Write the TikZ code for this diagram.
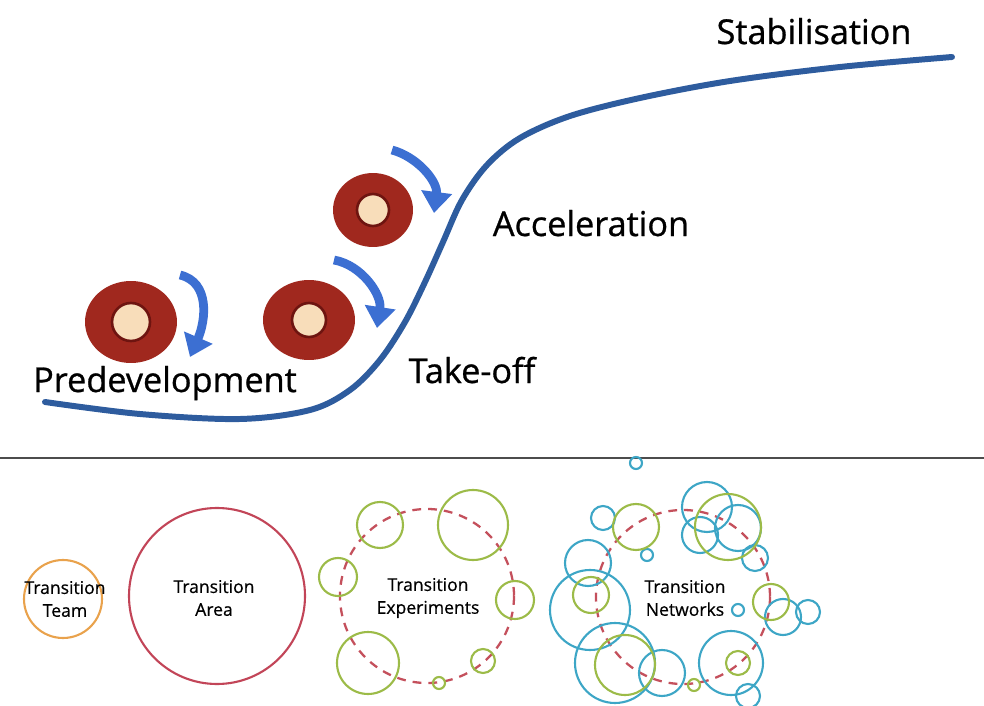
\documentclass[tikz,border=0pt]{standalone}
\usepackage{fontspec}
\setmainfont{Open Sans}
\usetikzlibrary{arrows.meta,shapes.geometric}

\definecolor{curveblue}{HTML}{2E5C9E}
\definecolor{arrowblue}{HTML}{3C6FD2}
\definecolor{discred}{HTML}{A0281E}
\definecolor{ringred}{HTML}{6E1410}
\definecolor{corebeige}{HTML}{F8DDBA}
\definecolor{teamorange}{HTML}{E9A24C}
\definecolor{areared}{HTML}{C24558}
\definecolor{dashred}{HTML}{C4505C}
\definecolor{expgreen}{HTML}{9CBB48}
\definecolor{netblue}{HTML}{3DA6C6}

\begin{document}
\begin{tikzpicture}[
    x=0.02cm, y=-0.02cm,
    phase/.style={anchor=base, inner sep=0pt,
      font=\fontsize{19.5}{23}\selectfont\addfontfeature{FakeBold=0.8}},
    level/.style={align=center, inner sep=0pt,
      font=\fontsize{10}{13}\selectfont\addfontfeature{FakeBold=0.5}},
    disc/.style={ellipse, fill=discred, inner sep=0pt},
    core/.style={circle, fill=corebeige, draw=ringred, line width=1.5pt, inner sep=0pt},
    move/.style={arrowblue, line width=5pt, -{Triangle[width=17pt,length=12pt]}},
    scurve/.style={curveblue, line width=3.4pt, line cap=round},
    ring/.style={line width=1.2pt},
    dashring/.style={dashred, line width=1.3pt, dash pattern=on 5pt off 4pt}
  ]
  \useasboundingbox (0,0) rectangle (984,706);

  % transition curve
  \draw[scurve] plot[smooth, tension=0.55] coordinates {
      (45,402) (140,414) (240,419) (310,410) (350,390) (380,360) (405,322)
      (425,282) (443,242) (462,200) (487,165) (520,138) (570,116) (640,98)
      (730,81) (840,67) (952,57)};

  % phase labels
  \node[phase] (stab) at (814,44)  {Stabilisation};
  \node[phase] (acc)  at (591,236) {Acceleration};
  \node[phase] (take) at (472,383) {Take-off};
  \node[phase] (pre)  at (165,392) {Predevelopment};

  % management discs
  \node[disc, minimum width=1.84cm, minimum height=1.64cm] (disc1) at (131,322) {};
  \node[core, minimum size=0.76cm] (core1) at (disc1) {};
  \node[disc, minimum width=1.84cm, minimum height=1.60cm] (disc2) at (309,320) {};
  \node[core, minimum size=0.68cm] (core2) at (disc2) {};
  \node[disc, minimum width=1.60cm, minimum height=1.48cm] (disc3) at (373,210) {};
  \node[core, minimum size=0.64cm] (core3) at (disc3) {};

  % rolling arrows
  \coordinate (a1s) at (180,275);
  \coordinate (a1e) at (190,357);
  \coordinate (a2s) at (334,260);
  \coordinate (a2e) at (377,328);
  \coordinate (a3s) at (392,150);
  \coordinate (a3e) at (434,213);
  \draw[move] (a1s) .. controls (210,282) and (206,320) .. (a1e);
  \draw[move] (a2s) .. controls (362,265) and (382,295) .. (a2e);
  \draw[move] (a3s) .. controls (418,157) and (438,182) .. (a3e);

  % divider
  \coordinate (divl) at (0,458);
  \coordinate (divr) at (984,458);
  \draw[black!70, line width=1.1pt] (divl) -- (divr);

  % team and area
  \draw[ring, teamorange] (63,599) circle (39);
  \node[level] (team) at (65,599) {Transition\\Team};
  \draw[ring, areared] (217,596) circle (88);
  \node[level] (area) at (214,598) {Transition\\Area};

  % experiments
  \draw[dashring] (427,596) circle (87);
  \foreach \x/\y/\r in {380/525/23, 473/525/35, 338/577/19, 515/600/19,
                        368/663/31, 483/661/12, 439/683/6}
    \draw[ring, expgreen] (\x,\y) circle (\r);
  \node[level] (exp) at (428,598) {Transition\\Experiments};

  % networks
  \draw[dashring] (683,597) circle (87);
  \foreach \x/\y/\r in {636/463/6, 603/518/12, 647/555/6, 707/507/25,
                        700/535/18, 738/528/23, 755/558/13, 588/563/23,
                        590/610/40, 615/663/40, 662/673/23, 731/663/32,
                        748/696/12, 783/617/18, 808/612/12, 738/610/6}
    \draw[ring, netblue] (\x,\y) circle (\r);
  \foreach \x/\y/\r in {636/527/23, 728/527/33, 591/595/18, 625/665/30,
                        694/685/6, 738/663/12, 771/602/18}
    \draw[ring, expgreen] (\x,\y) circle (\r);
  \node[level] (net) at (685,598) {Transition\\Networks};
\end{tikzpicture}
\end{document}
